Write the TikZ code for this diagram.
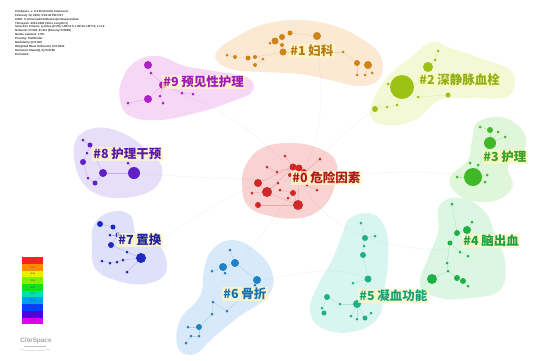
\documentclass[tikz,border=0pt]{standalone}
\usepackage{fontspec}
\setmainfont{Liberation Sans}
\newfontfamily\cjk{Noto Sans CJK SC}
\definecolor{k0}{HTML}{D02828}\definecolor{b0}{HTML}{F7C4C4}
\definecolor{k1}{HTML}{D08418}\definecolor{b1}{HTML}{FBE2C6}
\definecolor{k2}{HTML}{9CC214}\definecolor{b2}{HTML}{F1F8C8}
\definecolor{k3}{HTML}{40B828}\definecolor{b3}{HTML}{D6F4CE}
\definecolor{k4}{HTML}{20B048}\definecolor{b4}{HTML}{CFF3DA}
\definecolor{k5}{HTML}{20B088}\definecolor{b5}{HTML}{CBF4EA}
\definecolor{k6}{HTML}{2080C8}\definecolor{b6}{HTML}{CCE4F7}
\definecolor{k7}{HTML}{2028C0}\definecolor{b7}{HTML}{D4D8F7}
\definecolor{k8}{HTML}{6020C8}\definecolor{b8}{HTML}{E0D4F7}
\definecolor{k9}{HTML}{B020C8}\definecolor{b9}{HTML}{F4CBF4}
\definecolor{t0}{HTML}{B01818}\definecolor{t1}{HTML}{B87810}
\definecolor{t2}{HTML}{90B010}\definecolor{t3}{HTML}{38A020}
\definecolor{t4}{HTML}{18A040}\definecolor{t5}{HTML}{18A078}
\definecolor{t6}{HTML}{1870B0}\definecolor{t7}{HTML}{2020A0}
\definecolor{t8}{HTML}{5818B0}\definecolor{t9}{HTML}{A018B8}
\definecolor{lab}{HTML}{FFF8C0}
\tikzset{
  blob/.style={fill=#1, fill opacity=0.75},
  dotn/.style={circle, inner sep=0pt, fill=#1},
  lnk/.style={draw=#1, line width=0.35pt, draw opacity=0.25},
  farlink/.style={draw=gray, line width=0.4pt, draw opacity=0.1},
  clabel/.style={fill=lab, fill opacity=0.75, text opacity=1, inner sep=1.2pt, font=\cjk\bfseries\fontsize{12.5}{14}\selectfont, text=#1}
}
\begin{document}
\begin{tikzpicture}[x=1pt,y=-1pt]
\useasboundingbox (0,0) rectangle (537,360);
\fill[white] (0,0) rectangle (537,360);
% header
\node[anchor=north west, inner sep=0pt, align=left, font=\bfseries\fontsize{2.9}{3.9}\selectfont, text=black!80] (hdr) at (15,10) {CiteSpace, v. 6.2.R3 (64-bit) Advanced\\February 10, 2026, 9:36:42 PM CST\\CNKI: C:\textbackslash Users\textbackslash admin\textbackslash Desktop\textbackslash citespace\textbackslash data\\Timespan: 2012-2024 (Slice Length=1)\\Selection Criteria: g-index (k=25), LRF=2.5, L/N=10, LBY=5, e=1.0\\Network: N=302, E=311 (Density=0.0069)\\Nodes Labeled: 1.0\%\\Pruning: Pathfinder\\Modularity Q=0.816\\Weighted Mean Silhouette S=0.9622\\Harmonic Mean(Q, S)=0.8789\\Excluded:};
% blobs
\fill[blob=b1] plot[smooth cycle, tension=0.7] coordinates {(218,50) (240,35) (265,24) (300,20) (335,26) (360,38) (380,55) (380,78) (360,86) (330,80) (300,74) (265,72) (235,70) (218,62)};
\fill[blob=b9] plot[smooth cycle, tension=0.7] coordinates {(122,80) (135,62) (158,56) (185,66) (220,72) (248,78) (252,92) (230,102) (200,112) (160,120) (130,116) (120,100)};
\fill[blob=b2] plot[smooth cycle, tension=0.7] coordinates {(370,112) (385,80) (410,58) (432,42) (450,48) (480,58) (512,72) (508,96) (470,98) (440,100) (415,120) (385,125)};
\fill[blob=b3] plot[smooth cycle, tension=0.7] coordinates {(478,122) (505,118) (525,135) (522,155) (508,166) (512,188) (490,202) (460,196) (450,178) (468,160) (472,140)};
\fill[blob=b8] plot[smooth cycle, tension=0.7] coordinates {(76,140) (95,128) (120,132) (145,148) (162,168) (152,190) (118,198) (90,190) (76,168)};
\fill[blob=b0] plot[smooth cycle, tension=0.7] coordinates {(246,165) (262,148) (290,143) (318,148) (336,162) (334,188) (322,208) (300,218) (270,216) (248,206) (242,185)};
\fill[blob=b7] plot[smooth cycle, tension=0.7] coordinates {(94,225) (110,212) (130,215) (138,238) (160,246) (166,272) (145,284) (115,280) (95,268) (92,245)};
\fill[blob=b4] plot[smooth cycle, tension=0.7] coordinates {(440,205) (462,198) (485,212) (495,235) (505,262) (500,290) (470,298) (440,298) (420,285) (428,258) (438,232)};
\fill[blob=b5] plot[smooth cycle, tension=0.7] coordinates {(350,218) (372,214) (386,230) (388,262) (384,290) (378,318) (352,332) (322,328) (310,310) (318,285) (332,260) (342,235)};
\fill[blob=b6] plot[smooth cycle, tension=0.7] coordinates {(212,250) (232,240) (255,250) (272,272) (268,296) (240,316) (215,336) (195,354) (178,348) (180,320) (200,296) (204,270)};
% faint links between clusters
\draw[farlink] (300,180) .. controls (330,240) and (400,250) .. (450,250);
\draw[farlink] (300,180) .. controls (260,240) and (250,250) .. (235,265);
\draw[farlink] (300,180) .. controls (250,120) and (200,100) .. (165,88);
\draw[farlink] (300,180) .. controls (350,120) and (390,100) .. (402,90);
\draw[farlink] (300,180) .. controls (380,170) and (440,170) .. (472,177);
\draw[farlink] (300,180) .. controls (220,180) and (160,175) .. (134,173);
\draw[farlink] (300,180) .. controls (330,120) and (320,80) .. (317,40);
\draw[farlink] (258,183) .. controls (200,210) and (160,240) .. (141,258);
\draw[farlink] (357,304) .. controls (400,300) and (420,290) .. (432,279);
\draw[farlink] (368,279) .. controls (330,260) and (280,280) .. (257,280);
% cluster 0
\foreach \n/\x/\y/\s in {1/285/156/3,2/293/167/7,3/299/168/7,4/304/172/6,5/320/159/3,6/267/167/3,7/258/183/8,8/267/192/10,9/278/183/3,10/293/193/6,11/298/205/10,12/258/205/6,13/252/193/3,14/288/198/3,15/280/190/3,16/317/190/3,17/307/185/3,18/277/172/3,19/290/175/4,20/312/176/3}
  \node[dotn=k0, minimum size=\s pt] (c0-\n) at (\x,\y) {};
\foreach \a/\b in {2/7,2/8,3/11,7/8,8/11,11/12,10/11,2/19,19/3,6/18,18/2,13/8,9/8,15/10,16/17,17/4,1/2,5/4}
  \draw[lnk=k0] (c0-\a) -- (c0-\b);
% cluster 1
\foreach \n/\x/\y/\s in {1/317/36/8,2/290/33/5,3/282/37/6,4/275/41/7,5/282/45/4,6/283/52/7,7/270/43/3,8/255/57/4,9/248/58/5,10/235/57/4,11/227/55/3,12/263/59/3,13/255/65/4,14/343/52/3,15/357/63/6,16/368/65/8,17/365/75/3,18/357/75/3,19/372/73/3}
  \node[dotn=k1, minimum size=\s pt] (c1-\n) at (\x,\y) {};
\foreach \a/\b in {1/2,2/3,3/4,4/5,5/6,6/8,8/9,9/10,10/11,8/12,12/13,6/14,14/15,15/16,16/17,16/19,15/18}
  \draw[lnk=k1] (c1-\a) -- (c1-\b);
% cluster 2
\foreach \n/\x/\y/\s in {1/438/51/3,2/428/67/10,3/435/60/3,4/402/87/24,5/388/84/3,6/418/97/3,7/448/95/5,8/375/109/6,9/387/107/3,10/397/105/3,11/423/82/3}
  \node[dotn=k2, minimum size=\s pt] (c2-\n) at (\x,\y) {};
\foreach \a/\b in {1/3,3/2,2/11,11/4,4/5,4/6,6/7,4/10,10/9,9/8}
  \draw[lnk=k2] (c2-\a) -- (c2-\b);
% cluster 3
\foreach \n/\x/\y/\s in {1/490/130/6,2/498/132/3,3/490/143/12,4/505/137/3,5/480/127/3,6/473/177/18,7/457/177/3,8/487/175/3,9/485/182/3,10/478/165/3,11/470/163/3}
  \node[dotn=k3, minimum size=\s pt] (c3-\n) at (\x,\y) {};
\foreach \a/\b in {1/3,2/3,4/3,5/1,3/6,6/7,6/8,6/9,6/10,6/11}
  \draw[lnk=k3] (c3-\a) -- (c3-\b);
% cluster 4
\foreach \n/\x/\y/\s in {1/452/204/3,2/472/222/3,3/467/230/8,4/457/233/6,5/450/243/5,6/460/252/3,7/468/256/3,8/447/263/3,9/448/271/3,10/432/279/10,11/457/278/6,12/463/281/6,13/468/286/3}
  \node[dotn=k4, minimum size=\s pt] (c4-\n) at (\x,\y) {};
\foreach \a/\b in {1/4,2/3,3/4,4/5,5/6,6/7,5/8,8/9,9/10,9/11,11/12,12/13}
  \draw[lnk=k4] (c4-\a) -- (c4-\b);
% cluster 5
\foreach \n/\x/\y/\s in {1/361/223/3,2/365/238/6,3/375/236/3,4/364/246/3,5/363/255/6,6/353/283/3,7/368/279/7,8/327/297/6,9/340/304/3,10/357/304/8,11/322/308/3,12/324/313/5,13/351/316/3,14/357/319/3,15/365/318/5,16/371/313/3}
  \node[dotn=k5, minimum size=\s pt] (c5-\n) at (\x,\y) {};
\foreach \a/\b in {1/2,2/3,2/4,4/5,5/7,7/6,7/10,10/9,9/8,8/11,11/12,10/13,10/14,10/15,15/16}
  \draw[lnk=k5] (c5-\a) -- (c5-\b);
% cluster 6
\foreach \n/\x/\y/\s in {1/230/250/3,2/223/267/8,3/235/263/8,4/212/271/3,5/225/273/3,6/257/280/8,7/255/285/3,8/213/302/3,9/227/311/3,10/212/314/3,11/199/327/6,12/188/327/3,13/191/336/3,14/199/336/3,15/186/343/3}
  \node[dotn=k6, minimum size=\s pt] (c6-\n) at (\x,\y) {};
\foreach \a/\b in {1/3,3/2,2/4,2/5,3/6,6/7,7/9,9/8,8/10,10/11,11/12,11/14,14/13,13/15}
  \draw[lnk=k6] (c6-\a) -- (c6-\b);
% cluster 7
\foreach \n/\x/\y/\s in {1/100/224/6,2/113/227/5,3/110/235/3,4/118/235/5,5/111/245/6,6/127/252/3,7/141/258/10,8/123/260/3,9/102/261/3,10/110/263/3,11/117/262/3,12/127/272/3}
  \node[dotn=k7, minimum size=\s pt] (c7-\n) at (\x,\y) {};
\foreach \a/\b in {1/2,2/4,4/3,4/5,5/6,6/7,7/8,8/11,11/10,10/9,7/12}
  \draw[lnk=k7] (c7-\a) -- (c7-\b);
% cluster 8
\foreach \n/\x/\y/\s in {1/83/140/3,2/90/145/5,3/87/153/3,4/95/157/3,5/83/162/6,6/103/173/8,7/134/173/12,8/95/183/5,9/88/178/3,10/128/163/3}
  \node[dotn=k8, minimum size=\s pt] (c8-\n) at (\x,\y) {};
\foreach \a/\b in {1/2,2/3,3/5,4/6,6/7,6/8,8/9,7/10,5/9}
  \draw[lnk=k8] (c8-\a) -- (c8-\b);
% cluster 9
\foreach \n/\x/\y/\s in {1/148/65/8,2/151/73/3,3/163/85/8,4/148/99/8,5/128/103/3,6/160/96/3,7/163/103/3,8/182/93/3,9/193/94/3}
  \node[dotn=k9, minimum size=\s pt] (c9-\n) at (\x,\y) {};
\foreach \a/\b in {1/2,2/3,3/4,4/5,3/6,6/7,3/8,8/9}
  \draw[lnk=k9] (c9-\a) -- (c9-\b);
% labels
\node[clabel=t0, anchor=west] (L0) at (291,178) {\#0 危险因素};
\node[clabel=t1, anchor=west] (L1) at (289,51) {\#1 妇科};
\node[clabel=t2, anchor=west] (L2) at (418,80) {\#2 深静脉血栓};
\node[clabel=t3, anchor=west] (L3) at (482,157) {\#3 护理};
\node[clabel=t4, anchor=west] (L4) at (462,241) {\#4 脑出血};
\node[clabel=t5, anchor=west] (L5) at (358,296) {\#5 凝血功能};
\node[clabel=t6, anchor=west] (L6) at (222,294) {\#6 骨折};
\node[clabel=t7, anchor=west] (L7) at (117,240) {\#7 置换};
\node[clabel=t8, anchor=west] (L8) at (92,154) {\#8 护理干预};
\node[clabel=t9, anchor=west] (L9) at (162,82) {\#9 预见性护理};
% legend
\foreach \i/\c/\t in {0/FF2020/2013,1/FF8C00/2014,2/E8F000/2015,3/80F000/2016,4/10E020/2017,5/00E0B0/2018,6/00A0F0/2019,7/0040FF/2020,8/5000E0/2021,9/E000F0/2022}{
  \definecolor{lg}{HTML}{\c}
  \node[fill=lg, minimum width=21pt, minimum height=6.8pt, inner sep=0pt, anchor=north west, font=\fontsize{2.2}{2.5}\selectfont, text=black!70] (leg\i) at (22,257+6.7*\i) {\t};
}
% logo
\node[font=\bfseries\fontsize{6.5}{7}\selectfont, text=gray!70, inner sep=0pt] (logo) at (36,341) {CiteSpace};
\draw[gray!50, line width=0.6pt] (logo.south west) ++(4,2.5) -- ++(22,0);
\draw[gray!40, line width=0.4pt] (logo.south west) ++(0,5) .. controls ++(8,2) and ++(-8,2) .. ++(30,0);
\end{tikzpicture}
\end{document}
